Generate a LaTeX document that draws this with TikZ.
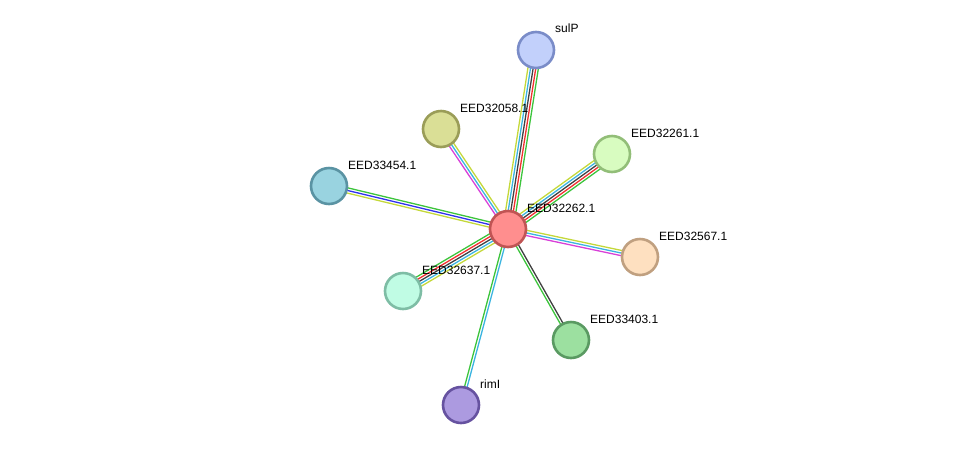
\documentclass[tikz,border=0pt]{standalone}
\usepackage{fontspec}
\setmainfont{Liberation Sans}
\usetikzlibrary{calc}
\pgfdeclarelayer{bg}
\pgfsetlayers{bg,main}
\definecolor{egreen}{HTML}{3CC43C}
\definecolor{ered}{HTML}{F03030}
\definecolor{eblack}{HTML}{404040}
\definecolor{ecyan}{HTML}{3BB4E0}
\definecolor{eyg}{HTML}{C4D83A}
\definecolor{eblue}{HTML}{3030EE}
\definecolor{emag}{HTML}{D840D8}
\tikzset{
  prot/.style={circle, minimum size=36pt, inner sep=0pt, line width=2.6pt},
  lbl/.style={anchor=west, inner sep=0pt, font=\fontsize{12pt}{14pt}\selectfont, text=black},
  eline/.style={line width=1.3pt},
}
\newcommand\mline[4]{\draw[eline,#4] ($(#1.center)!#3!90:(#2.center)$) -- ($(#2.center)!#3!-90:(#1.center)$);}
\begin{document}
\begin{tikzpicture}[x=1pt,y=-1pt]
\useasboundingbox (0,0) rectangle (975,451);
% nodes
\node[prot, fill={rgb,255:red,255;green,142;blue,142}, draw={rgb,255:red,192;green,84;blue,84}] (c) at (508,229) {};
\node[prot, fill={rgb,255:red,194;green,208;blue,251}, draw={rgb,255:red,122;green,140;blue,200}] (sulP) at (536,50) {};
\node[prot, fill={rgb,255:red,218;green,223;blue,150}, draw={rgb,255:red,154;green,157;blue,88}] (n58) at (441,129) {};
\node[prot, fill={rgb,255:red,216;green,252;blue,192}, draw={rgb,255:red,146;green,190;blue,120}] (n61) at (612,154) {};
\node[prot, fill={rgb,255:red,153;green,211;blue,224}, draw={rgb,255:red,90;green,147;blue,163}] (n54) at (329,186) {};
\node[prot, fill={rgb,255:red,254;green,224;blue,192}, draw={rgb,255:red,192;green,160;blue,128}] (n67) at (640,257) {};
\node[prot, fill={rgb,255:red,192;green,252;blue,228}, draw={rgb,255:red,126;green,189;blue,165}] (n37) at (403,291) {};
\node[prot, fill={rgb,255:red,156;green,224;blue,160}, draw={rgb,255:red,90;green,154;blue,98}] (n03) at (571,340) {};
\node[prot, fill={rgb,255:red,172;green,154;blue,224}, draw={rgb,255:red,102;green,82;blue,160}] (rimI) at (461,405) {};
% labels
\node[lbl] (lc) at (527,208) {EED32262.1};
\node[lbl] (lsulP) at (555,28) {sulP};
\node[lbl] (l58) at (460,108) {EED32058.1};
\node[lbl] (l61) at (631,133) {EED32261.1};
\node[lbl] (l54) at (348,165) {EED33454.1};
\node[lbl] (l67) at (659,236) {EED32567.1};
\node[lbl] (l37) at (422,270) {EED32637.1};
\node[lbl] (l03) at (590,319) {EED33403.1};
\node[lbl] (lrimI) at (480,384) {rimI};
% edges
\begin{pgfonlayer}{bg}
\mline{c}{sulP}{5.2pt}{eyg}
\mline{c}{sulP}{2.6pt}{ecyan}
\mline{c}{sulP}{0pt}{eblack}
\mline{c}{sulP}{-2.6pt}{ered}
\mline{c}{sulP}{-5.2pt}{egreen}
\mline{c}{n61}{5.2pt}{eyg}
\mline{c}{n61}{2.6pt}{ecyan}
\mline{c}{n61}{0pt}{eblack}
\mline{c}{n61}{-2.6pt}{ered}
\mline{c}{n61}{-5.2pt}{egreen}
\mline{c}{n37}{5.2pt}{eyg}
\mline{c}{n37}{2.6pt}{ecyan}
\mline{c}{n37}{0pt}{eblack}
\mline{c}{n37}{-2.6pt}{ered}
\mline{c}{n37}{-5.2pt}{egreen}
\mline{c}{n58}{2.6pt}{emag}
\mline{c}{n58}{0pt}{ecyan}
\mline{c}{n58}{-2.6pt}{eyg}
\mline{c}{n54}{2.6pt}{eyg}
\mline{c}{n54}{0pt}{eblue}
\mline{c}{n54}{-2.6pt}{egreen}
\mline{c}{n67}{2.6pt}{eyg}
\mline{c}{n67}{0pt}{ecyan}
\mline{c}{n67}{-2.6pt}{emag}
\mline{c}{n03}{1.3pt}{eblack}
\mline{c}{n03}{-1.3pt}{egreen}
\mline{c}{rimI}{1.3pt}{ecyan}
\mline{c}{rimI}{-1.3pt}{egreen}
\end{pgfonlayer}
\end{tikzpicture}
\end{document}
